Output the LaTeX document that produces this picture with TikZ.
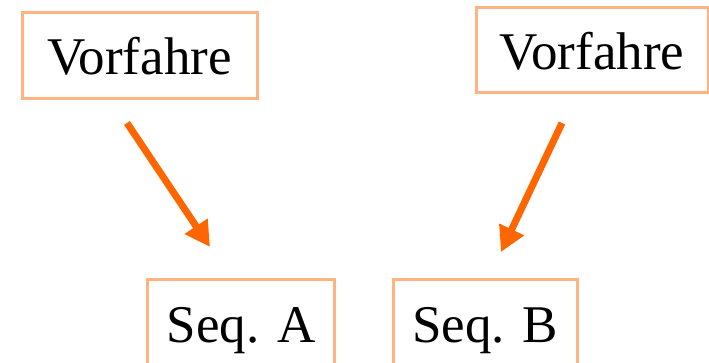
\documentclass[tikz,border=0pt]{standalone}
\usepackage{fontspec}
\setmainfont{Liberation Serif}
\usetikzlibrary{arrows.meta}
\definecolor{boxline}{HTML}{FFB380}
\definecolor{arrowc}{HTML}{FF6600}
\tikzset{
  box/.style={draw=boxline, line width=3pt, inner sep=0pt, anchor=base,
    font=\fontsize{53}{60}\selectfont},
  conn/.style={draw=arrowc, line width=7pt, -{Triangle[width=26pt,length=25pt]}}
}
\begin{document}
\begin{tikzpicture}[x=1pt,y=-1pt]
\useasboundingbox (0,0) rectangle (709,363);
\clip (0,0) rectangle (709,363);
\node[box, minimum width=235pt, text height=62pt, text depth=24pt] (v1) at (139.5,75) {Vorfahre};
\node[box, minimum width=232pt, text height=62pt, text depth=23pt] (v2) at (592,70) {Vorfahre};
\node[box, minimum width=187pt, text height=63pt, text depth=60pt] (sa) at (241,342) {Seq. A};
\node[box, minimum width=184pt, text height=63pt, text depth=60pt] (sb) at (485,342) {Seq. B};
\coordinate (a1s) at (127,123);
\coordinate (a1e) at (210,247);
\coordinate (a2s) at (562,123);
\coordinate (a2e) at (501,252);
\draw[conn] (a1s) -- (a1e);
\draw[conn] (a2s) -- (a2e);
\end{tikzpicture}
\end{document}
